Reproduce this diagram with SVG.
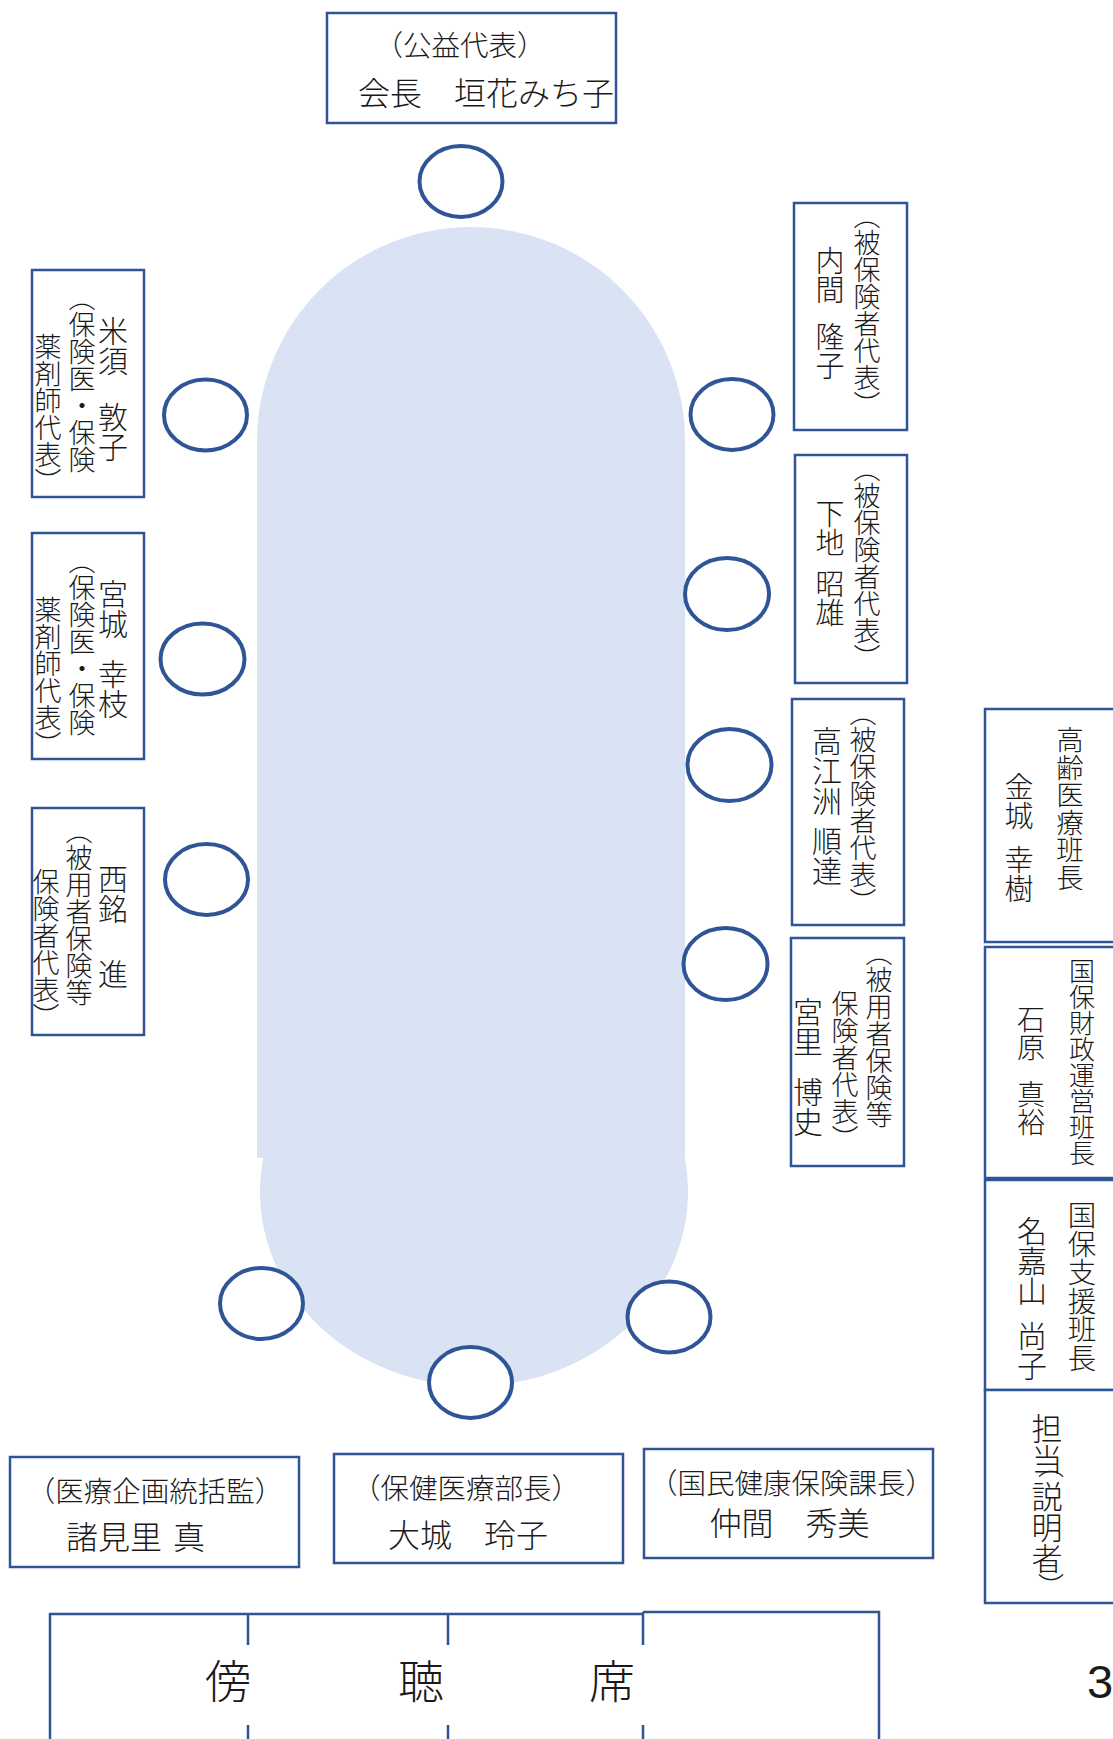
<svg xmlns="http://www.w3.org/2000/svg" width="1113" height="1739" viewBox="0 0 1113 1739">
<style>
.box{fill:#fff;stroke:#2F5597;stroke-width:2.5}
.seat{fill:#fff;stroke:#2F5597;stroke-width:4}
.ln{fill:none;stroke:#2F5597;stroke-width:2.5}
.t{font-family:"Noto Sans CJK JP","Noto Sans CJK SC",sans-serif;fill:#1a1a1a;font-weight:300}
.h{dominant-baseline:central}
.m{text-anchor:middle}
.v{writing-mode:vertical-rl;text-anchor:start}
.s{font-size:27px}
.n{font-size:30px}
.hs{font-size:28.5px}
.hn{font-size:32px}
</style>
<rect width="1113" height="1739" fill="#fff"/>
<g id="table">
<path d="M257,441 A214,214 0 0 1 685,441 L685,1158 L257,1158 Z" fill="#DAE3F3"/>
<ellipse cx="474" cy="1192" rx="214" ry="194" fill="#DAE3F3"/>
</g>
<g id="seats">
<ellipse class="seat" cx="461" cy="181.5" rx="41.5" ry="35.5"/>
<ellipse class="seat" cx="205.5" cy="415" rx="41.5" ry="35.5"/>
<ellipse class="seat" cx="202.5" cy="659" rx="42" ry="35.5"/>
<ellipse class="seat" cx="206.5" cy="879.5" rx="41.5" ry="35.5"/>
<ellipse class="seat" cx="732" cy="414.5" rx="41.5" ry="35.5"/>
<ellipse class="seat" cx="727" cy="594" rx="42" ry="36"/>
<ellipse class="seat" cx="729.5" cy="765" rx="42" ry="36"/>
<ellipse class="seat" cx="725.5" cy="964" rx="42" ry="36"/>
<ellipse class="seat" cx="261.5" cy="1303.5" rx="41.5" ry="35.5"/>
<ellipse class="seat" cx="470.5" cy="1382.5" rx="41.5" ry="35.5"/>
<ellipse class="seat" cx="669" cy="1317" rx="41.5" ry="35.5"/>
</g>
<g id="chair">
<rect class="box" x="327" y="13" width="289" height="110"/>
<text class="t h m hs" x="460" y="43">（公益代表）</text>
<text class="t h m hn" x="486" y="91">会長　垣花みち子</text>
</g>
<g id="node-yonesu">
<rect class="box" x="32" y="270" width="112" height="227"/>
<text class="t v n" x="113" y="316">米須</text>
<text class="t v n" x="113" y="402">敦子</text>
<text class="t v s" x="82" y="284">（保険医・保険</text>
<text class="t v s" x="48" y="333">薬剤師代表）</text>
</g>
<g id="node-miyagi">
<rect class="box" x="32" y="533" width="112" height="226"/>
<text class="t v n" x="113" y="579">宮城</text>
<text class="t v n" x="113" y="659">幸枝</text>
<text class="t v s" x="82" y="547">（保険医・保険</text>
<text class="t v s" x="48" y="596">薬剤師代表）</text>
</g>
<g id="node-nishime">
<rect class="box" x="32" y="808" width="112" height="227"/>
<text class="t v n" x="113" y="864">西銘</text>
<text class="t v n" x="113" y="959">進</text>
<text class="t v s" x="79" y="817">（被用者保険等</text>
<text class="t v s" x="46" y="868">保険者代表）</text>
</g>
<g id="node-uchima">
<rect class="box" x="794" y="203" width="113" height="227"/>
<text class="t v s" x="867" y="202">（被保険者代表）</text>
<text class="t v" x="830" y="246" font-size="29">内間</text>
<text class="t v" x="830" y="322" font-size="29">隆子</text>
</g>
<g id="node-shimoji">
<rect class="box" x="795" y="455" width="112" height="228"/>
<text class="t v s" x="867" y="455">（被保険者代表）</text>
<text class="t v" x="830" y="499" font-size="29">下地</text>
<text class="t v" x="830" y="569" font-size="29">昭雄</text>
</g>
<g id="node-takaesu">
<rect class="box" x="792" y="699" width="112" height="226"/>
<text class="t v s" x="863" y="699">（被保険者代表）</text>
<text class="t v n" x="827" y="726">高江洲</text>
<text class="t v n" x="827" y="826">順達</text>
</g>
<g id="node-miyazato">
<rect class="box" x="791" y="938" width="113" height="228"/>
<text class="t v s" x="879" y="939">（被用者保険等</text>
<text class="t v s" x="845" y="990">保険者代表）</text>
<text class="t v n" x="808" y="997">宮里</text>
<text class="t v n" x="808" y="1077">博史</text>
</g>
<g id="node-kinjo">
<rect class="box" x="985" y="709" width="150" height="233"/>
<text class="t v" x="1070" y="726" font-size="27.5">高齢医療班長</text>
<text class="t v" x="1019" y="772" font-size="29">金城</text>
<text class="t v" x="1019" y="845" font-size="29">幸樹</text>
</g>
<g id="node-ishihara">
<rect class="box" x="985" y="947" width="150" height="231"/>
<text class="t v" x="1082" y="958" font-size="26">国保財政運営班長</text>
<text class="t v" x="1031" y="1005" font-size="28">石原</text>
<text class="t v" x="1031" y="1080" font-size="28">真裕</text>
</g>
<g id="node-nakayama">
<rect class="box" x="985" y="1180" width="150" height="210"/>
<text class="t v" x="1082" y="1201" font-size="28.5">国保支援班長</text>
<text class="t v n" x="1032" y="1216">名嘉山</text>
<text class="t v n" x="1032" y="1321">尚子</text>
</g>
<g id="node-tanto">
<rect class="box" x="985" y="1390" width="150" height="213"/>
<text class="t v" x="1047" y="1413" font-size="31">担当</text>
<text class="t v" x="1051" y="1452" font-size="26">（</text>
<text class="t v" x="1047" y="1481" font-size="31">説明者</text>
<text class="t v" x="1051" y="1573" font-size="26">）</text>
</g>
<g id="node-moromizato">
<rect class="box" x="10" y="1457" width="289" height="110"/>
<text class="t h m hs" x="155" y="1489">（医療企画統括監）</text>
<text class="t h hn" x="66" y="1535">諸見里</text>
<text class="t h hn" x="173" y="1535">真</text>
</g>
<g id="node-oshiro">
<rect class="box" x="334" y="1454" width="289" height="109"/>
<text class="t h m hs" x="466" y="1486">（保健医療部長）</text>
<text class="t h m hn" x="468" y="1533">大城　玲子</text>
</g>
<g id="node-nakama">
<rect class="box" x="644" y="1449" width="289" height="109"/>
<text class="t h m hs" x="791.5" y="1481">（国民健康保険課長）</text>
<text class="t h m hn" x="789.5" y="1521">仲間　秀美</text>
</g>
<g id="gallery">
<path class="ln" d="M50,1739 V1614 H643 M643,1612 H879 V1739 M248,1614 V1645 M248,1725 V1739 M448,1614 V1645 M448,1725 V1739 M643,1612 V1645 M643,1725 V1739"/>
<text class="t h m" y="1678" font-size="46"><tspan x="228">傍</tspan><tspan x="421">聴</tspan><tspan x="612">席</tspan></text>
</g>
<text x="1087" y="1698" font-family="Liberation Sans, Arial, sans-serif" font-size="47" fill="#1a1a1a">3</text>
</svg>
